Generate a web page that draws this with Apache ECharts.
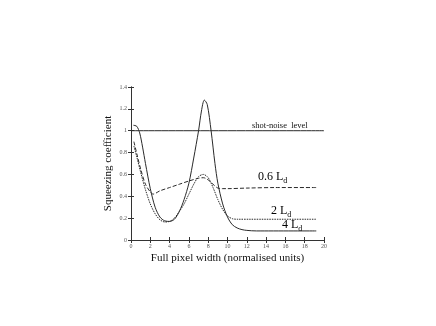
<!DOCTYPE html>
<html>
<head>
<meta charset="utf-8">
<script src="https://cdn.jsdelivr.net/npm/echarts@6/dist/echarts.min.js"></script>
<style>
  html, body { margin: 0; padding: 0; background: #fff; }
  #chart { width: 436px; height: 326px; }
</style>
</head>
<body>
<div id="chart"></div>
<script>
// x ticks / y ticks
var xTicks = [0, 2, 4, 6, 8, 10, 12, 14, 16, 18, 20];
var yTicks = [0, 0.2, 0.4, 0.6, 0.8, 1, 1.2, 1.4];

// 0.6 Ld  (dashed)
var ld06 = [
  [0.3, 0.9], [0.6, 0.79], [1, 0.65], [1.5, 0.51], [2, 0.44], [2.3, 0.42],
  [3, 0.45], [4, 0.48], [5, 0.51], [6, 0.54], [7, 0.565], [7.5, 0.57],
  [8, 0.55], [8.5, 0.51], [9, 0.475], [9.5, 0.47], [10, 0.47], [12, 0.475],
  [15, 0.48], [19.2, 0.48]
];
// 2 Ld  (dotted)
var ld2 = [
  [0.3, 0.86], [0.6, 0.76], [1, 0.62], [1.5, 0.46], [2, 0.33], [2.5, 0.24],
  [3, 0.185], [3.5, 0.165], [4, 0.17], [4.5, 0.2], [5, 0.26], [5.5, 0.33],
  [6, 0.42], [6.5, 0.51], [7, 0.58], [7.5, 0.6], [8, 0.57], [8.5, 0.48],
  [9, 0.37], [9.5, 0.28], [10, 0.22], [10.5, 0.195], [11, 0.19], [19.2, 0.19]
];
// 4 Ld  (solid, tall peak)
var ld4 = [
  [0.25, 1.05], [0.6, 1.04], [0.9, 0.98], [1.2, 0.85], [1.5, 0.7], [2, 0.47],
  [2.5, 0.3], [3, 0.21], [3.5, 0.175], [4, 0.17], [4.5, 0.19], [5, 0.26],
  [5.5, 0.37], [6, 0.52], [6.5, 0.75], [7, 1.0], [7.3, 1.18], [7.6, 1.28],
  [7.9, 1.24], [8.3, 1.0], [8.7, 0.7], [9, 0.52], [9.5, 0.33], [10, 0.21],
  [10.5, 0.14], [11, 0.11], [11.5, 0.095], [12, 0.088], [13, 0.083], [19.2, 0.083]
];
var shotNoise = [[0, 1], [20, 1]];

var serif = "'Liberation Serif', 'DejaVu Serif', serif";
var lineCol = '#2a2a2a';

var chart = echarts.init(document.getElementById('chart'));

function mkLine(name, data, type) {
  return {
    name: name,
    type: 'line',
    data: data,
    smooth: 0.3,
    showSymbol: false,
    silent: true,
    animation: false,
    lineStyle: { color: lineCol, width: 1, type: type }
  };
}

var axisTxt = { fontFamily: serif, fontSize: 6, color: '#555' };
var richLbl = {
  a: { fontFamily: serif, fontSize: 12, color: '#111' },
  s: { fontFamily: serif, fontSize: 8, color: '#111', padding: [7, 0, 0, 0] }
};

var option = {
  backgroundColor: '#fff',
  grid: { left: 131, right: 112, top: 87, bottom: 86 },
  xAxis: [{
    type: 'value', min: 0, max: 20, interval: 2,
    axisLine: { lineStyle: { color: '#333', width: 1 } },
    axisTick: { inside: true, length: 3, lineStyle: { color: '#333' } },
    axisLabel: Object.assign({ margin: 3 }, axisTxt),
    splitLine: { show: false },
    name: 'Full pixel width (normalised units)',
    nameLocation: 'middle', nameGap: 13,
    nameTextStyle: { fontFamily: serif, fontSize: 11, color: '#111' }
  }, {
    type: 'value', min: 0, max: 20, interval: 2, position: 'top',
    axisLine: { show: true, lineStyle: { color: '#333', width: 1 } },
    axisTick: { inside: true, length: 3, lineStyle: { color: '#333' } },
    axisLabel: { show: false }, splitLine: { show: false }
  }],
  yAxis: [{
    type: 'value', min: 0, max: 1.4, interval: 0.2,
    axisLine: { show: true, lineStyle: { color: '#333', width: 1 } },
    axisTick: { show: true, inside: true, length: 3, lineStyle: { color: '#333' } },
    axisLabel: Object.assign({ margin: 4, formatter: function (v) { return String(+v.toFixed(1)); } }, axisTxt),
    splitLine: { show: false },
    name: 'Squeezing coefficient',
    nameLocation: 'middle', nameGap: 17, nameRotate: 90,
    nameTextStyle: { fontFamily: serif, fontSize: 11, color: '#111' }
  }, {
    type: 'value', min: 0, max: 1.4, interval: 0.2, position: 'right',
    axisLine: { show: true, lineStyle: { color: '#333', width: 1 } },
    axisTick: { show: true, inside: true, length: 3, lineStyle: { color: '#333' } },
    axisLabel: { show: false }, splitLine: { show: false }
  }],
  series: [
    mkLine('shot-noise level', shotNoise, 'solid'),
    mkLine('0.6 Ld', ld06, [4, 2]),
    mkLine('2 Ld', ld2, [1.5, 1]),
    mkLine('4 Ld', ld4, 'solid')
  ],
  graphic: [
    { type: 'text', left: 252, top: 121,
      style: { text: 'shot-noise  level', font: '8.5px ' + serif, fill: '#111' } },
    { type: 'text', left: 258, top: 171,
      style: { text: '{a|0.6 L}{s|d}', rich: richLbl } },
    { type: 'text', left: 271, top: 205,
      style: { text: '{a|2 L}{s|d}', rich: richLbl } },
    { type: 'text', left: 282, top: 219,
      style: { text: '{a|4 L}{s|d}', rich: richLbl } }
  ]
};

chart.setOption(option);
</script>
</body>
</html>
